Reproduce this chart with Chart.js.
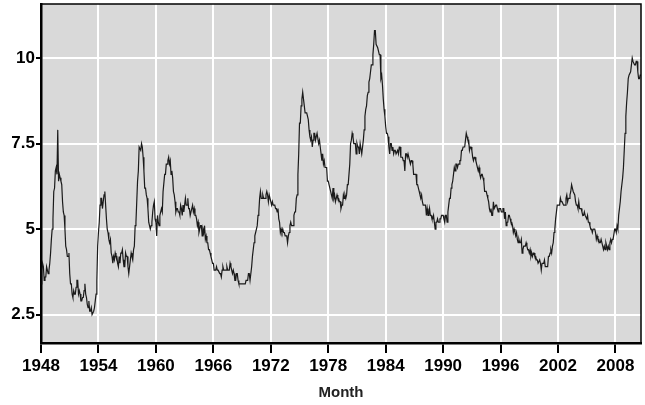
<!DOCTYPE html>
<html>
<head>
<meta charset="utf-8">
<script src="https://cdn.jsdelivr.net/npm/chart.js@4"></script>
<style>
  html, body { margin: 0; padding: 0; background: #fff; }
  #wrap { width: 645px; height: 405px; }
</style>
</head>
<body>
<div id="wrap"><canvas id="rateChart" width="645" height="405"></canvas></div>
<script>
// monthly unemployment rate (%), Jan 1948 .. Sep 2010
const firstYear = 1948;
const monthlyRate = [
  3.4, 3.8, 4.0, 3.9, 3.5, 3.6, 3.6, 3.9, 3.8, 3.7, 3.8, 4.0,
  4.3, 4.7, 5.0, 5.3, 6.1, 6.2, 6.7, 6.8, 6.6, 7.9, 6.4, 6.6,
  6.5, 6.4, 6.3, 5.8, 5.5, 5.4, 5.0, 4.5, 4.4, 4.2, 4.2, 4.3,
  3.7, 3.4, 3.4, 3.1, 3.0, 3.2, 3.1, 3.1, 3.3, 3.5, 3.5, 3.1,
  3.2, 3.1, 2.9, 2.9, 3.0, 3.0, 3.2, 3.4, 3.1, 3.0, 2.8, 2.7,
  2.9, 2.6, 2.6, 2.7, 2.5, 2.5, 2.6, 2.7, 2.9, 3.1, 3.5, 4.5,
  4.9, 5.2, 5.7, 5.9, 5.9, 5.6, 5.8, 6.0, 6.1, 5.7, 5.3, 5.0,
  4.9, 4.7, 4.6, 4.7, 4.3, 4.2, 4.0, 4.2, 4.1, 4.3, 4.2, 4.2,
  4.0, 3.9, 4.2, 4.0, 4.3, 4.3, 4.4, 4.1, 3.9, 3.9, 4.3, 4.2,
  4.2, 3.9, 3.7, 3.9, 4.1, 4.3, 4.2, 4.1, 4.4, 4.5, 5.1, 5.2,
  5.8, 6.4, 6.7, 7.4, 7.4, 7.3, 7.5, 7.4, 7.1, 6.7, 6.2, 6.2,
  6.0, 5.9, 5.6, 5.2, 5.1, 5.0, 5.1, 5.2, 5.5, 5.7, 5.8, 5.3,
  5.2, 4.8, 5.4, 5.2, 5.1, 5.4, 5.5, 5.6, 5.5, 6.1, 6.1, 6.6,
  6.6, 6.9, 6.9, 7.0, 7.1, 6.9, 7.0, 6.6, 6.7, 6.5, 6.1, 6.0,
  5.8, 5.5, 5.6, 5.6, 5.5, 5.5, 5.4, 5.7, 5.6, 5.4, 5.7, 5.5,
  5.7, 5.9, 5.7, 5.7, 5.9, 5.6, 5.6, 5.4, 5.5, 5.5, 5.7, 5.5,
  5.6, 5.4, 5.4, 5.3, 5.1, 5.2, 4.9, 5.0, 5.1, 5.1, 4.8, 5.0,
  4.9, 5.1, 4.7, 4.8, 4.6, 4.6, 4.4, 4.4, 4.3, 4.2, 4.1, 4.0,
  4.0, 3.8, 3.8, 3.8, 3.9, 3.8, 3.8, 3.8, 3.7, 3.7, 3.6, 3.8,
  3.9, 3.8, 3.8, 3.8, 3.8, 3.9, 3.8, 3.8, 3.8, 4.0, 3.9, 3.8,
  3.7, 3.8, 3.7, 3.5, 3.5, 3.7, 3.7, 3.5, 3.4, 3.4, 3.4, 3.4,
  3.4, 3.4, 3.4, 3.4, 3.4, 3.5, 3.5, 3.5, 3.7, 3.7, 3.5, 3.5,
  3.9, 4.2, 4.4, 4.6, 4.8, 4.9, 5.0, 5.1, 5.4, 5.5, 5.9, 6.1,
  5.9, 5.9, 6.0, 5.9, 5.9, 5.9, 6.0, 6.1, 6.0, 5.8, 6.0, 6.0,
  5.8, 5.7, 5.8, 5.7, 5.7, 5.7, 5.6, 5.6, 5.5, 5.6, 5.3, 5.2,
  4.9, 5.0, 4.9, 5.0, 4.9, 4.9, 4.8, 4.8, 4.8, 4.6, 4.8, 4.9,
  5.1, 5.2, 5.1, 5.1, 5.1, 5.4, 5.5, 5.5, 5.9, 6.0, 6.6, 7.2,
  8.1, 8.1, 8.6, 8.8, 9.0, 8.8, 8.6, 8.4, 8.4, 8.4, 8.3, 8.2,
  7.9, 7.7, 7.6, 7.7, 7.4, 7.6, 7.8, 7.8, 7.6, 7.7, 7.8, 7.8,
  7.5, 7.6, 7.4, 7.2, 7.0, 7.2, 6.9, 7.0, 6.8, 6.8, 6.8, 6.4,
  6.4, 6.3, 6.3, 6.1, 6.0, 5.9, 6.2, 5.9, 6.0, 5.8, 5.9, 6.0,
  5.9, 5.9, 5.8, 5.8, 5.6, 5.7, 5.7, 6.0, 5.9, 6.0, 5.9, 6.0,
  6.3, 6.3, 6.3, 6.9, 7.5, 7.6, 7.8, 7.7, 7.5, 7.5, 7.5, 7.2,
  7.5, 7.4, 7.4, 7.2, 7.5, 7.5, 7.2, 7.4, 7.6, 7.9, 8.3, 8.5,
  8.6, 8.9, 9.0, 9.3, 9.4, 9.6, 9.8, 9.8, 10.1, 10.4, 10.8, 10.8,
  10.4, 10.4, 10.3, 10.2, 10.1, 10.1, 9.4, 9.5, 9.2, 8.8, 8.5, 8.3,
  8.0, 7.8, 7.8, 7.7, 7.4, 7.2, 7.5, 7.5, 7.3, 7.4, 7.2, 7.3,
  7.3, 7.2, 7.2, 7.3, 7.2, 7.4, 7.4, 7.1, 7.1, 7.1, 7.0, 7.0,
  6.7, 7.2, 7.2, 7.1, 7.2, 7.2, 7.0, 6.9, 7.0, 7.0, 6.9, 6.6,
  6.6, 6.6, 6.6, 6.3, 6.3, 6.2, 6.1, 6.0, 5.9, 6.0, 5.8, 5.7,
  5.7, 5.7, 5.7, 5.4, 5.6, 5.4, 5.4, 5.6, 5.4, 5.4, 5.3, 5.3,
  5.4, 5.2, 5.0, 5.2, 5.2, 5.3, 5.2, 5.2, 5.3, 5.3, 5.4, 5.4,
  5.4, 5.3, 5.2, 5.4, 5.4, 5.2, 5.5, 5.7, 5.9, 5.9, 6.2, 6.3,
  6.4, 6.6, 6.8, 6.7, 6.9, 6.9, 6.8, 6.9, 6.9, 7.0, 7.0, 7.3,
  7.3, 7.4, 7.4, 7.4, 7.6, 7.8, 7.7, 7.6, 7.6, 7.3, 7.4, 7.4,
  7.3, 7.1, 7.0, 7.1, 7.1, 7.0, 6.9, 6.8, 6.7, 6.8, 6.6, 6.5,
  6.6, 6.6, 6.5, 6.4, 6.1, 6.1, 6.1, 6.0, 5.9, 5.8, 5.6, 5.5,
  5.6, 5.4, 5.4, 5.8, 5.6, 5.6, 5.7, 5.7, 5.6, 5.5, 5.6, 5.6,
  5.6, 5.5, 5.5, 5.6, 5.6, 5.3, 5.5, 5.1, 5.2, 5.2, 5.4, 5.4,
  5.3, 5.2, 5.2, 5.1, 4.9, 5.0, 4.9, 4.8, 4.9, 4.7, 4.6, 4.7,
  4.6, 4.6, 4.7, 4.3, 4.4, 4.5, 4.5, 4.5, 4.6, 4.5, 4.4, 4.4,
  4.3, 4.4, 4.2, 4.3, 4.2, 4.3, 4.3, 4.2, 4.2, 4.1, 4.1, 4.0,
  4.0, 4.1, 4.0, 3.8, 4.0, 4.0, 4.0, 4.1, 3.9, 3.9, 3.9, 3.9,
  4.2, 4.2, 4.3, 4.4, 4.3, 4.5, 4.6, 4.9, 5.0, 5.3, 5.5, 5.7,
  5.7, 5.7, 5.7, 5.9, 5.8, 5.8, 5.8, 5.7, 5.7, 5.7, 5.9, 6.0,
  5.8, 5.9, 5.9, 6.0, 6.1, 6.3, 6.2, 6.1, 6.1, 6.0, 5.8, 5.7,
  5.7, 5.6, 5.8, 5.6, 5.6, 5.6, 5.5, 5.4, 5.4, 5.5, 5.4, 5.4,
  5.3, 5.4, 5.2, 5.2, 5.1, 5.0, 5.0, 4.9, 5.0, 5.0, 5.0, 4.9,
  4.7, 4.8, 4.7, 4.7, 4.6, 4.6, 4.7, 4.7, 4.5, 4.4, 4.5, 4.4,
  4.6, 4.5, 4.4, 4.5, 4.4, 4.6, 4.7, 4.6, 4.7, 4.7, 4.7, 5.0,
  5.0, 4.9, 5.1, 5.0, 5.4, 5.6, 5.8, 6.1, 6.1, 6.5, 6.8, 7.3,
  7.8, 8.3, 8.7, 9.0, 9.4, 9.5, 9.5, 9.6, 9.8, 10.0, 9.9, 9.9,
  9.8, 9.8, 9.9, 9.9, 9.6, 9.4, 9.4, 9.5, 9.5
];
const xTickYears = [1948, 1954, 1960, 1966, 1972, 1978, 1984, 1990, 1996, 2002, 2008];
const yTickValues = [2.5, 5, 7.5, 10];
const yTickLabels = ['2.5', '5', '7.5', '10'];

const points = monthlyRate.map((v, i) => ({ x: firstYear + i / 12, y: v }));

const FONT = "'Liberation Sans', Arial, sans-serif";

const panel = {
  id: 'panel',
  beforeDraw(chart) {
    const a = chart.chartArea, ctx = chart.ctx;
    ctx.save();
    ctx.fillStyle = '#d9d9d9';
    ctx.fillRect(a.left, a.top, a.right - a.left, a.bottom - a.top);
    ctx.restore();
  },
  afterDraw(chart) {
    const a = chart.chartArea, ctx = chart.ctx;
    ctx.save();
    ctx.strokeStyle = '#000';
    ctx.lineWidth = 1.5;
    ctx.strokeRect(a.left, a.top, a.right - a.left, a.bottom - a.top);
    ctx.restore();
  }
};

new Chart(document.getElementById('rateChart').getContext('2d'), {
  type: 'line',
  data: {
    datasets: [{
      data: points,
      borderColor: '#1a1a1a',
      borderWidth: 1.2,
      pointRadius: 0,
      tension: 0,
      fill: false
    }]
  },
  options: {
    responsive: false,
    animation: false,
    layout: { padding: { top: 4, right: 4, left: 0, bottom: 0 } },
    plugins: { legend: { display: false }, tooltip: { enabled: false } },
    scales: {
      x: {
        type: 'linear',
        min: firstYear,
        max: firstYear + (monthlyRate.length - 1) / 12,
        afterBuildTicks: s => { s.ticks = xTickYears.map(v => ({ value: v })); },
        afterFit: s => { s.height = 62; s.paddingLeft = 0; s.paddingRight = 0; },
        grid: { color: '#fff', lineWidth: 2, tickColor: '#000', tickLength: 10, tickWidth: 2 },
        border: { display: true, color: '#000', width: 2.5 },
        ticks: {
          color: '#000', padding: 3, maxRotation: 0, autoSkip: false,
          font: { family: FONT, size: 17, weight: 'bold' },
          callback: v => String(v)
        },
        title: {
          display: true, text: 'Month', color: '#222',
          font: { family: FONT, size: 15, weight: 'bold' },
          padding: { top: 6, bottom: 3 }
        }
      },
      y: {
        min: 1.67,
        max: 11.58,
        afterBuildTicks: s => { s.ticks = yTickValues.map(v => ({ value: v })); },
        afterFit: s => { s.width = 41; s.paddingTop = 0; s.paddingBottom = 0; },
        grid: { color: '#fff', lineWidth: 2, tickColor: '#000', tickLength: 5, tickWidth: 2 },
        border: { display: true, color: '#000', width: 2.5 },
        ticks: {
          color: '#000', padding: 1,
          font: { family: FONT, size: 17, weight: 'bold' },
          callback: v => yTickLabels[yTickValues.indexOf(v)]
        }
      }
    }
  },
  plugins: [panel]
});
</script>
</body>
</html>
